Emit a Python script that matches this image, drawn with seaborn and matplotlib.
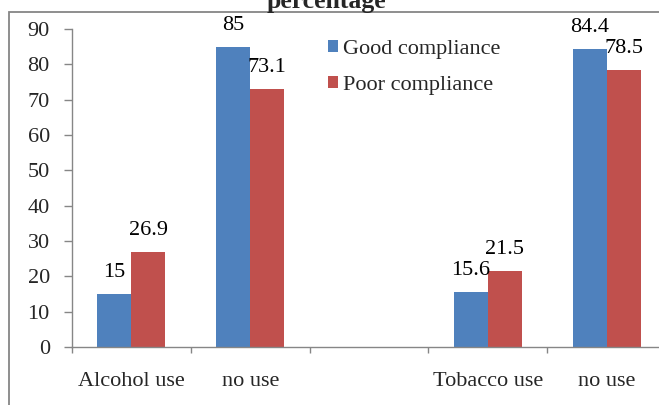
import matplotlib
matplotlib.use("Agg")
import matplotlib.pyplot as plt
from matplotlib.patches import Rectangle
import numpy as np
import pandas as pd
import seaborn as sns

# Category keys (unique) and the labels shown under each slot
category_keys = ["alcohol_use", "alcohol_none", "gap", "tobacco_use", "tobacco_none"]
tick_labels = ["Alcohol use", "no use", "", "Tobacco use", "no use"]

series_names = ["Good compliance", "Poor compliance"]
good_compliance = [15, 85, None, 15.6, 84.4]
poor_compliance = [26.9, 73.1, None, 21.5, 78.5]

colors = {"Good compliance": "#4F81BD", "Poor compliance": "#C0504D"}

rows = []
for key, g, p in zip(category_keys, good_compliance, poor_compliance):
    if g is not None:
        rows.append({"category": key, "group": series_names[0], "value": g})
    if p is not None:
        rows.append({"category": key, "group": series_names[1], "value": p})
df = pd.DataFrame(rows)

sns.set_style("white")
plt.rcParams["font.family"] = ["Liberation Serif", "DejaVu Serif"]

FS = 16
W, H = 659, 405
fig = plt.figure(figsize=(W / 100, H / 100), dpi=100)
ax = fig.add_axes([72 / W, (H - 347) / H, 594 / W, 318 / H])

sns.barplot(data=df, x="category", y="value", hue="group", order=category_keys,
            hue_order=series_names, palette=colors, width=0.572, gap=0,
            saturation=1, ax=ax, legend=False, linewidth=0)

for container in ax.containers:
    ax.bar_label(container, fmt="%g", padding=8.5, fontsize=FS, color="black")

ax.set_xlim(-0.5, len(category_keys) - 0.5)
ax.set_ylim(0, 90)
ax.set_yticks(np.arange(0, 91, 10))
ax.set_xlabel("")
ax.set_ylabel("")

ax.set_xticks(range(len(category_keys)))
ax.set_xticklabels(tick_labels)
ax.set_xticks(np.arange(-0.5, len(category_keys), 1.0), minor=True)
ax.tick_params(axis="x", which="major", length=0, pad=18, labelsize=FS)
ax.tick_params(axis="x", which="minor", length=4.5, width=1, color="#868686",
               direction="out", bottom=True)
ax.tick_params(axis="y", length=5.5, width=1, color="#868686", direction="out",
               pad=10.5, labelsize=FS, left=True)

spine_color = "#868686"
for side in ["top", "right"]:
    ax.spines[side].set_visible(False)
for side in ["left", "bottom"]:
    ax.spines[side].set_color(spine_color)
    ax.spines[side].set_linewidth(1)

# Legend
handles = [Rectangle((0, 0), 1, 1, facecolor=colors[n], edgecolor="none") for n in series_names]
fig.legend(handles, series_names, loc="upper left",
           bbox_to_anchor=(328 / W, 1 - 40 / H), frameon=False, fontsize=FS,
           handlelength=0.46, handleheight=0.46, handletextpad=0.2,
           borderpad=0, borderaxespad=0, labelspacing=0.75)

# Title
fig.text(326 / W, 1 - 8 / H, "percentage", ha="center", va="baseline",
         fontweight="bold", fontsize=18.5)

# Chart area border
fig.add_artist(Rectangle((9 / W, -0.5), 2.0, (1 - 12 / H) + 0.5,
                         transform=fig.transFigure, fill=False,
                         edgecolor="#868686", linewidth=1.3))

fig.savefig("out.png", dpi=100)
